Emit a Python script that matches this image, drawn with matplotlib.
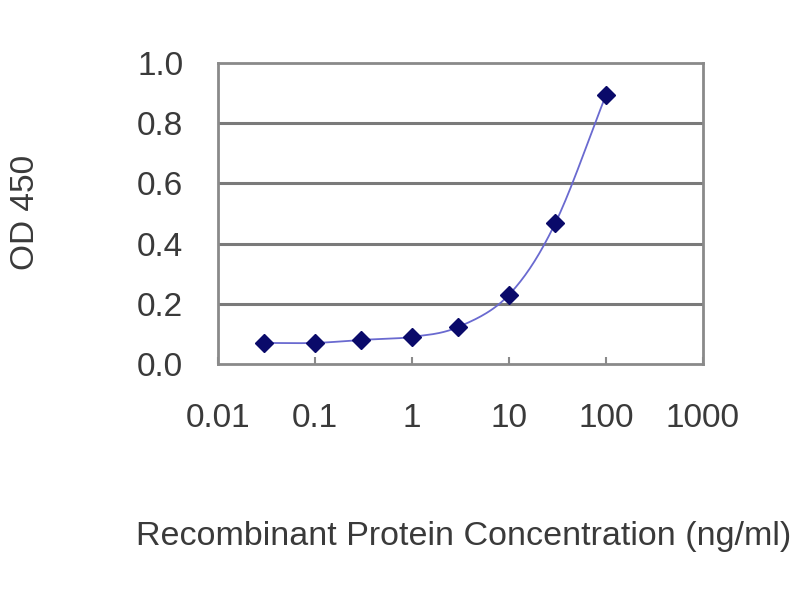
import numpy as np
import matplotlib
matplotlib.use("Agg")
import matplotlib.pyplot as plt
from matplotlib.ticker import FixedLocator, NullLocator

conc = [0.03, 0.1, 0.3, 1, 3, 10, 30, 100]
od450 = [0.07, 0.07, 0.08, 0.09, 0.123, 0.23, 0.468, 0.894]
xticks = [0.01, 0.1, 1, 10, 100, 1000]
xticklabels = ["0.01", "0.1", "1", "10", "100", "1000"]
yticks = [0.0, 0.2, 0.4, 0.6, 0.8, 1.0]
yticklabels = ["0.0", "0.2", "0.4", "0.6", "0.8", "1.0"]

plt.rcParams['font.family'] = ['Liberation Sans', 'DejaVu Sans']
txt = '#3a3a3a'
fs = 24

fig = plt.figure(figsize=(8, 6), dpi=100)
ax = fig.add_axes([218/800, 1-364/600, (703-218)/800, (364-63)/600])
ax.set_xscale('log')
ax.set_xlim(0.01, 1000)
ax.set_ylim(0, 1.0)

# smoothed line (Catmull-Rom through data points in log-x space)
lx = np.log10(conc)
ly = np.array(od450)
P = np.column_stack([lx, ly])
Pe = np.vstack([P[0] - (P[1] - P[0]), P, P[-1] + (P[-1] - P[-2])])
xs, ys = [], []
for i in range(1, len(Pe) - 2):
    p0, p1, p2, p3 = Pe[i-1], Pe[i], Pe[i+1], Pe[i+2]
    t = np.linspace(0, 1, 30)[:, None]
    pt = 0.5 * ((2*p1) + (-p0 + p2)*t + (2*p0 - 5*p1 + 4*p2 - p3)*t**2 + (-p0 + 3*p1 - 3*p2 + p3)*t**3)
    xs.extend(pt[:, 0]); ys.extend(pt[:, 1])
ax.plot(10**np.array(xs), ys, color='#6a6ad0', lw=1.3, zorder=3)
ax.plot(conc, od450, linestyle='none', marker='D', markersize=9, color='#0a0a6a', zorder=4)

for y in yticks[1:-1]:
    ax.axhline(y, color='#7a7a7a', lw=2.2, zorder=1)

for s in ax.spines.values():
    s.set_color('#8a8a8a')
    s.set_linewidth(2)

ax.xaxis.set_major_locator(FixedLocator(xticks))
ax.xaxis.set_minor_locator(NullLocator())
ax.set_xticklabels(xticklabels)
ax.set_yticks(yticks)
ax.set_yticklabels(yticklabels)
ax.tick_params(axis='x', direction='in', length=5, width=1.5, color='#8a8a8a',
               labelsize=fs, labelcolor=txt, pad=28)
ax.tick_params(axis='y', length=0, labelsize=fs, labelcolor=txt, pad=25)

ax.set_xlabel("Recombinant Protein Concentration (ng/ml)", fontsize=24.5, color=txt)
ax.xaxis.set_label_coords((464-218)/485, -(537-364)/301)
ax.xaxis.label.set_va('center')
ax.set_ylabel("OD 450", fontsize=fs, color=txt)
ax.yaxis.set_label_coords(-(218-25)/485, (364-212)/301)
ax.yaxis.label.set_va('center')

fig.savefig("out.png", dpi=100)
